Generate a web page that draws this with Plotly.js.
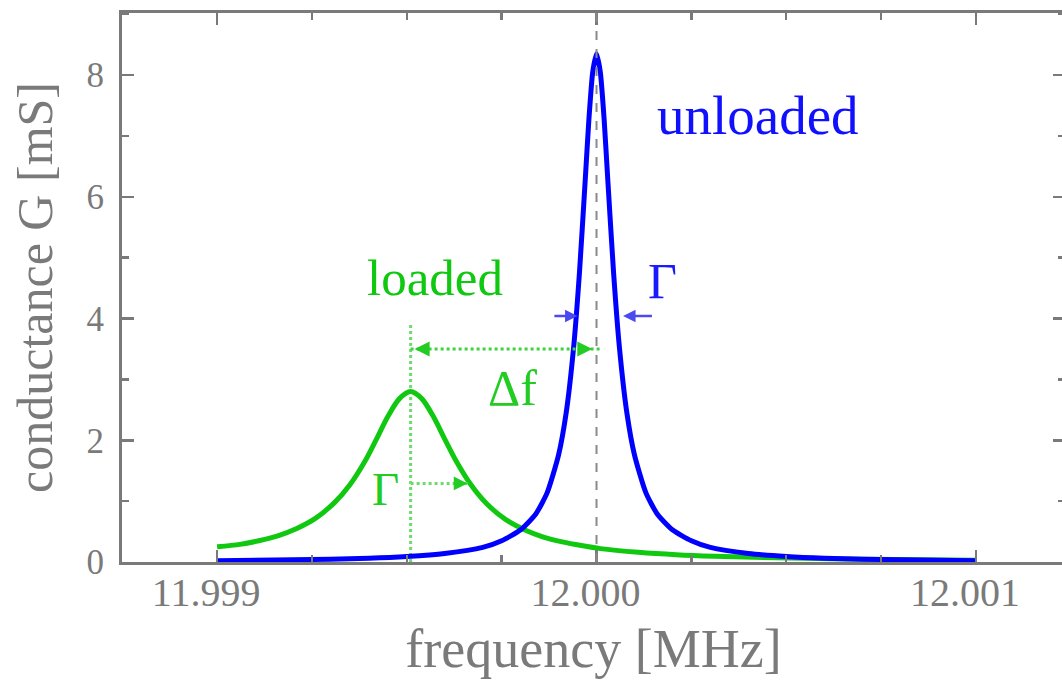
<!DOCTYPE html>
<html>
<head>
<meta charset="utf-8">
<script src="https://cdn.plot.ly/plotly-3.0.1.min.js"></script>
<style>
  html, body { margin: 0; padding: 0; overflow: hidden; background: #fff; }
  #chart { width: 1066px; height: 689px; }
</style>
</head>
<body>
<div id="chart"></div>
<script>
// ---- data ----
// unloaded resonance (blue), frequency in MHz, conductance in mS
const freqUnloaded = [11.99900, 11.99920, 11.99940, 11.99950, 11.99960, 11.99970, 11.99975, 11.99980,
  11.99984, 11.99987, 11.99990, 11.99992, 11.99994, 11.999955, 11.99997, 11.99998, 11.99999, 12.00000,
  12.00001, 12.00002, 12.00003, 12.000045, 12.00006, 12.00008, 12.00010, 12.00013, 12.00016, 12.00020,
  12.00025, 12.00030, 12.00040, 12.00050, 12.00060, 12.00080, 12.00100];
const gUnloaded = [0.022, 0.035, 0.062, 0.09, 0.14, 0.24, 0.35, 0.53,
  0.79, 1.14, 1.76, 2.45, 3.55, 4.75, 6.25, 7.28, 8.05, 8.35,
  8.05, 7.28, 6.25, 4.75, 3.55, 2.45, 1.76, 1.14, 0.79, 0.53,
  0.35, 0.24, 0.14, 0.09, 0.062, 0.035, 0.022];

// loaded resonance (green)
const freqLoaded = [11.99900, 11.99906, 11.99911, 11.99916, 11.99921, 11.99926, 11.99931, 11.99935,
  11.99939, 11.99942, 11.99945, 11.99948, 11.99951, 11.99954, 11.99957, 11.99960, 11.99963, 11.99967,
  11.99971, 11.99976, 11.99981, 11.99986, 11.99991, 11.99996, 12.00001, 12.00011, 12.00021, 12.00031,
  12.00051, 12.00071, 12.00100];
const gLoaded = [0.25, 0.29, 0.35, 0.43, 0.55, 0.72, 0.98, 1.27,
  1.66, 2.02, 2.39, 2.68, 2.80, 2.68, 2.39, 2.02, 1.66, 1.26,
  0.96, 0.70, 0.53, 0.41, 0.33, 0.27, 0.22, 0.16, 0.12, 0.095,
  0.065, 0.045, 0.03];

// tick labels
const xTickVals = [11.999, 12.000, 12.001];
const xTickText = ['11.999', '12.000', '12.001'];
const yTickVals = [0, 2, 4, 6, 8];
const yTickText = ['0', '2', '4', '6', '8'];

// marker positions
const fUnloaded = 12.0000;     // unloaded resonance frequency
const fLoaded = 11.99951;      // loaded resonance frequency
const deltaFLevel = 3.5;       // height of the Δf arrow
const loadedGammaLevel = 1.29; // height of the loaded Γ arrow
const loadedGammaEnd = 11.99966;
const unloadedGammaLevel = 4.04;
const unloadedGammaLeft = [11.999885, 11.99995];
const unloadedGammaRight = [12.00015, 12.00007];
const loadedDottedTop = 3.9;

const GREY = '#7a7a7a';
const BLUE = '#0000ff';
const GREEN = '#11c811';
const SERIF = '"Liberation Serif", "Times New Roman", serif';

const traces = [
  { x: freqLoaded, y: gLoaded, type: 'scatter', mode: 'lines',
    line: { color: GREEN, width: 5, shape: 'spline', smoothing: 0.8 }, hoverinfo: 'skip', name: 'loaded' },
  { x: freqUnloaded, y: gUnloaded, type: 'scatter', mode: 'lines',
    line: { color: BLUE, width: 5, shape: 'spline', smoothing: 0.6 }, hoverinfo: 'skip', name: 'unloaded' }
];

const axisCommon = {
  showgrid: false, zeroline: false, showline: true, linecolor: GREY, linewidth: 3,
  mirror: 'ticks', ticks: 'inside', tickcolor: GREY, tickwidth: 2.5, ticklen: 12,
  tickmode: 'array'
};

const layout = {
  width: 1066, height: 689,
  margin: { l: 122, r: 1, t: 13, b: 127 },
  paper_bgcolor: '#ffffff', plot_bgcolor: '#ffffff',
  showlegend: false,
  xaxis: Object.assign({}, axisCommon, {
    range: [11.9987493, 12.0012348],
    tickvals: xTickVals, ticktext: xTickText,
    tickfont: { family: SERIF, size: 40, color: GREY },
    ticklabelstandoff: -7, ticklabelshift: -11,
    minor: { tickmode: 'linear', tick0: 11.999, dtick: 0.00025, ticks: 'inside', ticklen: 7,
             tickwidth: 2.5, tickcolor: GREY, showgrid: false },
    title: { text: 'frequency [MHz]', font: { family: SERIF, size: 54, color: GREY }, standoff: 16 }
  }),
  yaxis: Object.assign({}, axisCommon, {
    range: [0, 9.02],
    tickvals: yTickVals, ticktext: yTickText,
    tickfont: { family: SERIF, size: 35, color: GREY },
    ticklabelstandoff: 8,
    minor: { tickmode: 'linear', tick0: 0, dtick: 1, ticks: 'inside', ticklen: 7,
             tickwidth: 2.5, tickcolor: GREY, showgrid: false },
    title: { text: 'conductance G [mS]', font: { family: SERIF, size: 50, color: GREY }, standoff: 19 }
  }),
  shapes: [
    // grey dashed line at the unloaded resonance
    { type: 'line', xref: 'x', yref: 'paper', x0: fUnloaded, x1: fUnloaded, y0: 0, y1: 1,
      line: { color: '#8a8a8a', width: 2, dash: 'dash' }, layer: 'above' },
    // green dotted line at the loaded resonance
    { type: 'line', xref: 'x', yref: 'y', x0: fLoaded, x1: fLoaded, y0: 0, y1: loadedDottedTop,
      line: { color: '#6ddc6d', width: 3, dash: 'dot' }, layer: 'below' },
    // Δf dotted line
    { type: 'line', xref: 'x', yref: 'y', x0: fLoaded, x1: fUnloaded + 0.00001, y0: deltaFLevel, y1: deltaFLevel,
      line: { color: '#3fd23f', width: 3, dash: 'dot' }, layer: 'above' },
    // loaded Γ dotted line
    { type: 'line', xref: 'x', yref: 'y', x0: fLoaded, x1: loadedGammaEnd, y0: loadedGammaLevel, y1: loadedGammaLevel,
      line: { color: '#6ddc6d', width: 3, dash: 'dot' }, layer: 'above' }
  ],
  annotations: [
    { text: 'unloaded', x: 12.000425, y: 7.33, xref: 'x', yref: 'y', showarrow: false,
      font: { family: SERIF, size: 55, color: '#1010ff' } },
    { text: 'loaded', x: 11.999575, y: 4.66, xref: 'x', yref: 'y', showarrow: false,
      font: { family: SERIF, size: 51, color: GREEN } },
    { text: 'Δf', x: 11.999778, y: 2.86, xref: 'x', yref: 'y', showarrow: false,
      font: { family: SERIF, size: 50, color: '#22cc22' } },
    { text: 'Γ', x: 11.999443, y: 1.2, xref: 'x', yref: 'y', showarrow: false,
      font: { family: SERIF, size: 47, color: '#22cc22' } },
    { text: 'Γ', x: 12.000175, y: 4.62, xref: 'x', yref: 'y', showarrow: false,
      font: { family: SERIF, size: 50, color: '#1a1aff' } },
    // Δf arrowheads
    { text: '', x: fLoaded, y: deltaFLevel, ax: fLoaded + 0.00004, ay: deltaFLevel,
      xref: 'x', yref: 'y', axref: 'x', ayref: 'y', showarrow: true,
      arrowhead: 2, arrowsize: 1.2, arrowwidth: 2.5, arrowcolor: '#22cc22', standoff: 4 },
    { text: '', x: fUnloaded + 0.00001, y: deltaFLevel, ax: fUnloaded - 0.00003, ay: deltaFLevel,
      xref: 'x', yref: 'y', axref: 'x', ayref: 'y', showarrow: true,
      arrowhead: 2, arrowsize: 1.2, arrowwidth: 2.5, arrowcolor: '#22cc22', standoff: 8 },
    // loaded Γ arrowhead
    { text: '', x: loadedGammaEnd, y: loadedGammaLevel, ax: loadedGammaEnd - 0.00004, ay: loadedGammaLevel,
      xref: 'x', yref: 'y', axref: 'x', ayref: 'y', showarrow: true,
      arrowhead: 2, arrowsize: 1.1, arrowwidth: 2.5, arrowcolor: '#22cc22', standoff: 0 },
    // unloaded Γ arrows
    { text: '', x: unloadedGammaLeft[1], y: unloadedGammaLevel, ax: unloadedGammaLeft[0], ay: unloadedGammaLevel,
      xref: 'x', yref: 'y', axref: 'x', ayref: 'y', showarrow: true,
      arrowhead: 2, arrowsize: 1.0, arrowwidth: 2.5, arrowcolor: '#4a4af0', standoff: 0 },
    { text: '', x: unloadedGammaRight[1], y: unloadedGammaLevel, ax: unloadedGammaRight[0], ay: unloadedGammaLevel,
      xref: 'x', yref: 'y', axref: 'x', ayref: 'y', showarrow: true,
      arrowhead: 2, arrowsize: 1.0, arrowwidth: 2.5, arrowcolor: '#4a4af0', standoff: 0 }
  ]
};

Plotly.newPlot('chart', traces, layout, { displayModeBar: false, staticPlot: true });
</script>
</body>
</html>
